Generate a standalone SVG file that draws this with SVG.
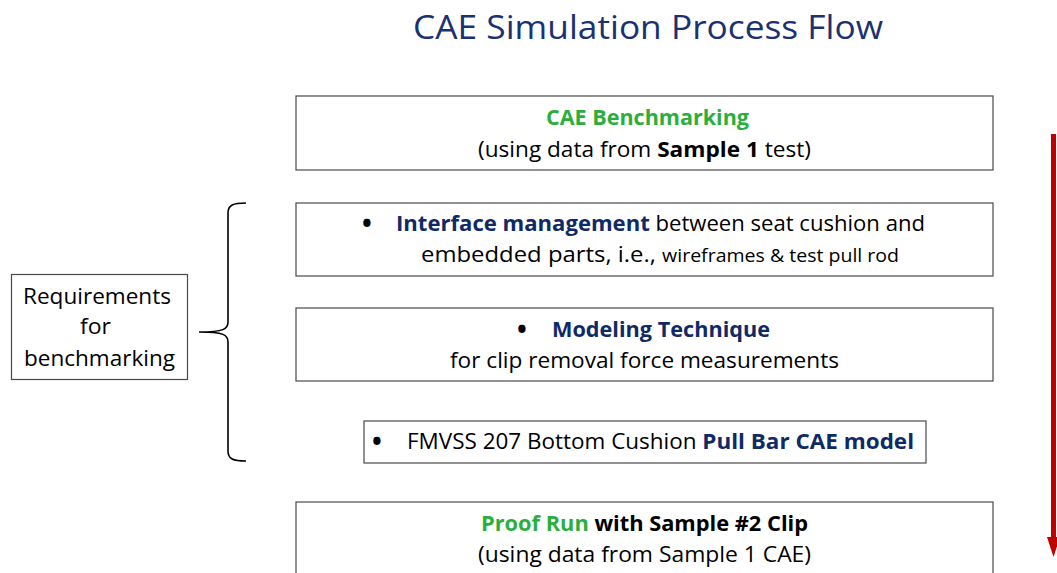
<svg xmlns="http://www.w3.org/2000/svg" width="1057" height="573" viewBox="0 0 1057 573">
<style>
text{font-family:"Open Sans","Liberation Sans",sans-serif;font-size:22px;fill:#000}
.b{font-weight:bold}
.g{fill:#2BAF3C}
.n{fill:#0F2A66}
.box{fill:#fff;stroke:#4a4a4a;stroke-width:1.2}
.t{font-size:33px;fill:#1B3170}
.s{font-size:18px}
.bul{font-size:26px;font-weight:bold}
</style>
<rect width="1057" height="573" fill="#fff"/>
<text class="t" x="413" y="39" textLength="470" lengthAdjust="spacingAndGlyphs">CAE Simulation Process Flow</text>

<g id="box1">
<rect class="box" x="296" y="96" width="697" height="74"/>
<text class="b g" x="546" y="125" textLength="203" lengthAdjust="spacingAndGlyphs">CAE Benchmarking</text>
<text x="478" y="157" textLength="333" lengthAdjust="spacingAndGlyphs">(using data from <tspan class="b">Sample 1</tspan> test)</text>
</g>

<g id="box2">
<rect class="box" x="296" y="203" width="697" height="73"/>
<text class="bul" x="362" y="233">•</text>
<text x="396" y="231" textLength="529" lengthAdjust="spacingAndGlyphs"><tspan class="b n">Interface management</tspan> between seat cushion and</text>
<text x="421" y="262" textLength="478" lengthAdjust="spacingAndGlyphs">embedded parts, i.e., <tspan class="s">wireframes &amp; test pull rod</tspan></text>
</g>

<g id="box3">
<rect class="box" x="296" y="308" width="697" height="73"/>
<text class="bul" x="517" y="339">•</text>
<text class="b n" x="552" y="337" textLength="218" lengthAdjust="spacingAndGlyphs">Modeling Technique</text>
<text x="450" y="368" textLength="389" lengthAdjust="spacingAndGlyphs">for clip removal force measurements</text>
</g>

<g id="box4">
<rect class="box" x="364" y="421" width="562" height="42"/>
<text class="bul" x="372" y="451">•</text>
<text x="407" y="449" textLength="507" lengthAdjust="spacingAndGlyphs">FMVSS 207 Bottom Cushion <tspan class="b n">Pull Bar CAE model</tspan></text>
</g>

<g id="box5">
<rect class="box" x="296" y="502" width="697" height="80"/>
<text class="b" x="481" y="531" textLength="327" lengthAdjust="spacingAndGlyphs"><tspan class="g">Proof Run</tspan> with Sample #2 Clip</text>
<text x="478" y="562" textLength="333" lengthAdjust="spacingAndGlyphs">(using data from Sample 1 CAE)</text>
</g>

<g id="requirements">
<rect class="box" x="11.5" y="274.5" width="176" height="105"/>
<text x="23" y="304" textLength="148" lengthAdjust="spacingAndGlyphs">Requirements</text>
<text x="80" y="334" textLength="31" lengthAdjust="spacingAndGlyphs">for</text>
<text x="24" y="366" textLength="151" lengthAdjust="spacingAndGlyphs">benchmarking</text>
</g>

<g id="connectors">
<path d="M246,203 C233,203 228,205 228,213 L228,322 C228,329 224,332 199,332 C224,332 228,335 228,342 L228,451 C228,459 233,461 246,461" fill="none" stroke="#000" stroke-width="1.6"/>
<line x1="1053.5" y1="134" x2="1053.5" y2="540" stroke="#C00000" stroke-width="5"/>
<polygon points="1047,537 1060,537 1053.5,557" fill="#C00000"/>
</g>
</svg>
